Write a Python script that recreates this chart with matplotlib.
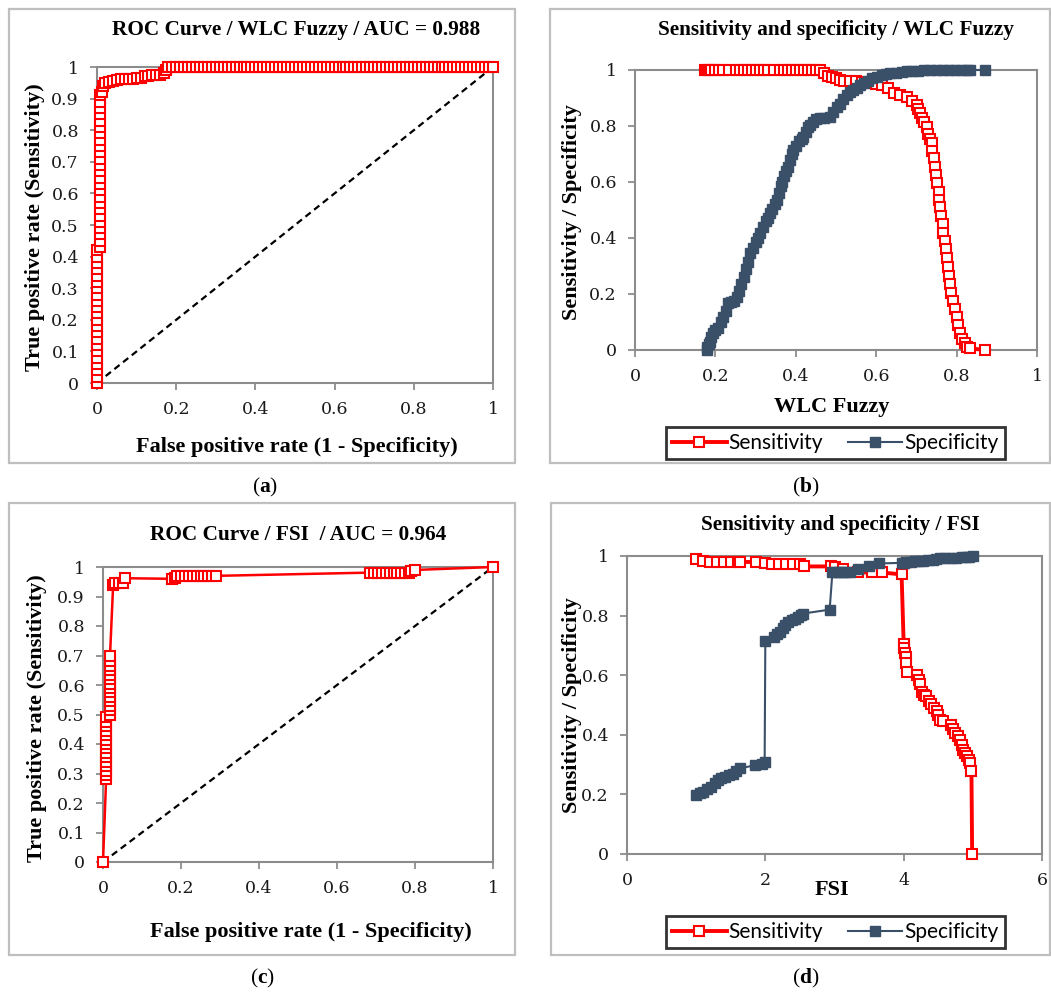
import matplotlib
matplotlib.use("Agg")
import matplotlib.pyplot as plt
from matplotlib.patches import Rectangle

# ---------------- data ----------------
# (a) ROC curve, WLC Fuzzy
fuzzy_fpr = [0, 0, 0, 0, 0, 0, 0, 0, 0, 0, 0, 0, 0, 0, 0, 0, 0, 0, 0, 0, 0, 0,
             0.008, 0.008, 0.008, 0.008, 0.008, 0.008, 0.008, 0.008, 0.008, 0.008,
             0.008, 0.008, 0.008, 0.008, 0.008, 0.008, 0.008, 0.008, 0.008, 0.008,
             0.008, 0.008, 0.008, 0.008, 0.008,
             0.012, 0.015, 0.02, 0.03, 0.04, 0.05, 0.06, 0.07, 0.08, 0.09, 0.10,
             0.11, 0.12, 0.13, 0.14, 0.15, 0.16, 0.17, 0.175, 0.18,
             0.19, 0.20, 0.21, 0.22, 0.23, 0.24, 0.25, 0.26, 0.27, 0.28, 0.29,
             0.30, 0.31, 0.32, 0.33, 0.34, 0.35, 0.36, 0.37, 0.38, 0.39, 0.40,
             0.41, 0.42, 0.43, 0.44, 0.45, 0.46, 0.47, 0.48, 0.49, 0.50, 0.51,
             0.52, 0.53, 0.54, 0.55, 0.56, 0.57, 0.58, 0.59, 0.60, 0.61, 0.62,
             0.63, 0.64, 0.65, 0.66, 0.67, 0.68, 0.69, 0.70, 0.71, 0.72, 0.73,
             0.74, 0.75, 0.76, 0.77, 0.78, 0.79, 0.80, 0.81, 0.82, 0.83, 0.84,
             0.85, 0.86, 0.87, 0.88, 0.89, 0.90, 0.91, 0.92, 0.93, 0.94, 0.95,
             0.96, 0.97, 0.98, 0.99, 1.00]
fuzzy_tpr = [0.00, 0.02, 0.04, 0.06, 0.08, 0.10, 0.12, 0.14, 0.16, 0.18, 0.20,
             0.22, 0.24, 0.26, 0.28, 0.30, 0.32, 0.34, 0.36, 0.38, 0.40, 0.42,
             0.43, 0.45, 0.47, 0.49, 0.51, 0.53, 0.55, 0.57, 0.59, 0.61, 0.63,
             0.65, 0.67, 0.69, 0.71, 0.73, 0.75, 0.77, 0.79, 0.81, 0.83, 0.85,
             0.87, 0.89, 0.91,
             0.92, 0.94, 0.95, 0.952, 0.955, 0.96, 0.962, 0.962, 0.963, 0.963,
             0.964, 0.966, 0.97, 0.972, 0.974, 0.975, 0.976, 0.98, 0.99, 1.0,
             1, 1, 1, 1, 1, 1, 1, 1, 1, 1, 1, 1, 1, 1, 1, 1, 1, 1, 1, 1, 1, 1,
             1, 1, 1, 1, 1, 1, 1, 1, 1, 1, 1, 1, 1, 1, 1, 1, 1, 1, 1, 1, 1, 1,
             1, 1, 1, 1, 1, 1, 1, 1, 1, 1, 1, 1, 1, 1, 1, 1, 1, 1, 1, 1, 1, 1,
             1, 1, 1, 1, 1, 1, 1, 1, 1, 1, 1, 1, 1, 1, 1, 1]

# (b) sensitivity / specificity against WLC Fuzzy
fuzzy_sens_x = [0.175, 0.18, 0.185, 0.19, 0.20, 0.21, 0.22, 0.235, 0.25, 0.26,
                0.27, 0.28, 0.29, 0.30, 0.31, 0.32, 0.33, 0.345, 0.36, 0.37,
                0.38, 0.39, 0.40, 0.41, 0.42, 0.43, 0.44, 0.45, 0.46,
                0.47, 0.48, 0.49, 0.50, 0.51, 0.52, 0.535, 0.55, 0.565, 0.58,
                0.60, 0.615, 0.63, 0.645, 0.66, 0.677, 0.69, 0.701, 0.705, 0.709,
                0.715, 0.72, 0.726, 0.73, 0.734, 0.738, 0.74, 0.743, 0.746, 0.749,
                0.752, 0.755, 0.757, 0.759, 0.762, 0.765, 0.767, 0.77, 0.773,
                0.776, 0.779, 0.782, 0.784, 0.787, 0.791, 0.795, 0.80, 0.804,
                0.808, 0.814, 0.82, 0.826, 0.833, 0.87]
fuzzy_sens_y = [1, 1, 1, 1, 1, 1, 1, 1, 1, 1, 1, 1, 1, 1, 1, 1, 1, 1, 1, 1, 1,
                1, 1, 1, 1, 1, 1, 1, 1,
                0.99, 0.98, 0.975, 0.97, 0.965, 0.962, 0.96, 0.96, 0.958, 0.955,
                0.95, 0.946, 0.935, 0.917, 0.91, 0.905, 0.89, 0.876, 0.86, 0.846,
                0.83, 0.815, 0.797, 0.77, 0.755, 0.738, 0.71, 0.685, 0.655, 0.625,
                0.595, 0.565, 0.536, 0.51, 0.48, 0.45, 0.417, 0.39, 0.36, 0.33,
                0.298, 0.265, 0.235, 0.202, 0.175, 0.148, 0.119, 0.09, 0.06, 0.04,
                0.024, 0.012, 0.006, 0.0]
fuzzy_spec_x = [0.178, 0.18, 0.183, 0.186, 0.19, 0.195, 0.20, 0.207, 0.213, 0.22,
                0.226, 0.232, 0.24, 0.247, 0.253, 0.258, 0.264, 0.27, 0.275, 0.28,
                0.286, 0.293, 0.30, 0.305, 0.311, 0.318, 0.325, 0.33, 0.336, 0.342,
                0.348, 0.353, 0.358, 0.362, 0.365, 0.37, 0.376, 0.381, 0.386, 0.39,
                0.394, 0.40, 0.408, 0.415, 0.419, 0.425, 0.43, 0.435, 0.442, 0.45,
                0.46, 0.47, 0.485, 0.492, 0.502, 0.51, 0.518, 0.527, 0.535, 0.543,
                0.552, 0.56, 0.569, 0.58, 0.59, 0.602, 0.615, 0.625, 0.635, 0.65,
                0.665, 0.676, 0.69, 0.705, 0.72, 0.735, 0.75, 0.765, 0.78, 0.795,
                0.81, 0.825, 0.833, 0.87]
fuzzy_spec_y = [0.0, 0.01, 0.02, 0.03, 0.045, 0.06, 0.07, 0.08, 0.10, 0.119,
                0.14, 0.167, 0.17, 0.175, 0.19, 0.21, 0.235, 0.262, 0.29, 0.315,
                0.345, 0.365, 0.385, 0.40, 0.417, 0.44, 0.46, 0.47, 0.488, 0.505,
                0.52, 0.536, 0.56, 0.585, 0.601, 0.62, 0.64, 0.655, 0.68, 0.70,
                0.714, 0.73, 0.745, 0.755, 0.762, 0.78, 0.795, 0.804, 0.815, 0.825,
                0.828, 0.83, 0.833, 0.85, 0.869, 0.88, 0.895, 0.911, 0.92, 0.928,
                0.935, 0.945, 0.952, 0.962, 0.97, 0.976, 0.982, 0.985, 0.988, 0.99,
                0.993, 0.996, 0.997, 0.998, 0.999, 1.0, 1.0, 1.0, 1.0, 1.0,
                1.0, 1.0, 1.0, 1.0]

# (c) ROC curve, FSI
fsi_fpr = [0.0,
           0.008, 0.008, 0.008, 0.008, 0.008, 0.008, 0.008, 0.008, 0.008, 0.008,
           0.008, 0.008, 0.008, 0.008, 0.008,
           0.018, 0.018, 0.018, 0.018, 0.018, 0.018, 0.018, 0.018, 0.018, 0.018,
           0.018, 0.018, 0.018, 0.018,
           0.026, 0.03, 0.04, 0.05, 0.056, 0.176, 0.185, 0.19, 0.20, 0.21, 0.22,
           0.23, 0.24, 0.25, 0.26, 0.27, 0.28, 0.29, 0.685, 0.695, 0.705, 0.715,
           0.725, 0.735, 0.745, 0.755, 0.765, 0.775, 0.785, 0.79, 0.80, 1.0]
fsi_tpr = [0.0,
           0.28, 0.295, 0.31, 0.325, 0.34, 0.355, 0.37, 0.385, 0.40, 0.415,
           0.43, 0.445, 0.46, 0.475, 0.49,
           0.50, 0.515, 0.53, 0.545, 0.56, 0.575, 0.59, 0.605, 0.62, 0.635,
           0.65, 0.665, 0.68, 0.70,
           0.939, 0.945, 0.945, 0.945, 0.962, 0.96, 0.962, 0.968, 0.97, 0.97,
           0.97, 0.97, 0.97, 0.97, 0.97, 0.97, 0.97, 0.97, 0.981, 0.981, 0.981,
           0.981, 0.981, 0.981, 0.981, 0.981, 0.981, 0.981, 0.981, 0.985, 0.99,
           1.0]

# (d) sensitivity / specificity against FSI
fsi_sens_x = [1.0, 1.1, 1.2, 1.3, 1.4, 1.5, 1.6, 1.63, 1.87, 1.99, 2.1, 2.2, 2.3,
              2.4, 2.5, 2.56, 2.95, 3.0, 3.12, 3.34, 3.54, 3.68, 3.97, 4.0, 4.01,
              4.02, 4.03, 4.04, 4.05, 4.19, 4.22, 4.24, 4.26, 4.3, 4.33, 4.37,
              4.4, 4.44, 4.48, 4.5, 4.52, 4.57, 4.69, 4.72, 4.74, 4.78, 4.81,
              4.84, 4.86, 4.89, 4.91, 4.94, 4.96, 4.98, 4.99]
fsi_sens_y = [0.99, 0.982, 0.98, 0.98, 0.98, 0.98, 0.98, 0.98, 0.98, 0.975,
              0.973, 0.973, 0.973, 0.973, 0.973, 0.965, 0.965, 0.963, 0.957,
              0.945, 0.945, 0.945, 0.938, 0.706, 0.69, 0.675, 0.661, 0.64, 0.61,
              0.6, 0.585, 0.57, 0.545, 0.535, 0.53, 0.515, 0.505, 0.49, 0.48,
              0.465, 0.45, 0.445, 0.434, 0.42, 0.406, 0.395, 0.384, 0.365, 0.35,
              0.34, 0.328, 0.315, 0.306, 0.278, 0.0]
fsi_spec_x = [1.0, 1.05, 1.1, 1.16, 1.22, 1.27, 1.31, 1.36, 1.41, 1.47, 1.53,
              1.58, 1.63, 1.85, 1.95, 1.99, 2.0, 2.13, 2.17, 2.21, 2.25, 2.28,
              2.33, 2.38, 2.43, 2.47, 2.51, 2.55, 2.93, 2.97, 3.02, 3.07, 3.12,
              3.17, 3.22, 3.34, 3.5, 3.65, 3.97, 4.0, 4.04, 4.1, 4.16, 4.22, 4.28,
              4.35, 4.43, 4.47, 4.52, 4.6, 4.68, 4.76, 4.84, 4.9, 4.95, 5.0]
fsi_spec_y = [0.198, 0.205, 0.209, 0.218, 0.226, 0.238, 0.248, 0.255, 0.259,
              0.265, 0.27, 0.28, 0.287, 0.298, 0.303, 0.309, 0.715, 0.728, 0.737,
              0.745, 0.757, 0.768, 0.777, 0.785, 0.79, 0.796, 0.803, 0.807, 0.82,
              0.946, 0.946, 0.946, 0.946, 0.946, 0.946, 0.955, 0.965, 0.975,
              0.977, 0.978, 0.98, 0.981, 0.982, 0.983, 0.984, 0.985, 0.985, 0.99,
              0.993, 0.993, 0.994, 0.994, 0.995, 0.995, 0.995, 1.0]

# ---------------- styling ----------------
TICKFONT = "DejaVu Serif"
SERIF = "Liberation Serif"
SANS = "Lato"
RED = "#FF0000"
NAVY = "#3A5068"
GRID = "#8C8C8C"

plt.rcParams["font.family"] = TICKFONT
plt.rcParams["mathtext.fontset"] = "custom"
plt.rcParams["mathtext.rm"] = SERIF
plt.rcParams["mathtext.bf"] = SERIF + ":bold"

W, H = 1051, 992
fig = plt.figure(figsize=(W / 100, H / 100), dpi=100)


def box(l, t, r, b):
    return [l / W, 1 - b / H, (r - l) / W, (b - t) / H]


def ftext(x, y, s, **kw):
    fig.text(x / W, 1 - y / H, s, ha="center", va="center", family=SERIF, **kw)


def frame(l, t, r, b):
    fig.patches.append(Rectangle((l / W, 1 - b / H), (r - l) / W, (b - t) / H,
                                 transform=fig.transFigure, fill=False,
                                 edgecolor="#BFBFBF", lw=1.6))


def style(ax, xt, xl, yt, yl):
    for s in ax.spines.values():
        s.set_color(GRID)
        s.set_linewidth(1.5)
    ax.set_xticks(xt)
    ax.set_xticklabels(xl)
    ax.set_yticks(yt)
    ax.set_yticklabels(yl)
    ax.tick_params(axis="both", direction="out", length=5, width=1.3,
                   color=GRID, labelsize=12.5, labelcolor="#1a1a1a")
    ax.tick_params(axis="x", pad=8)
    ax.tick_params(axis="y", pad=8)


frame(9, 9, 515, 463)
frame(550, 9, 1050, 463)
frame(9, 503, 515, 955)
frame(551, 503, 1050, 955)

ticks01 = [0, 0.2, 0.4, 0.6, 0.8, 1]
labels01 = ["0", "0.2", "0.4", "0.6", "0.8", "1"]
ticks_roc_y = [0, 0.1, 0.2, 0.3, 0.4, 0.5, 0.6, 0.7, 0.8, 0.9, 1]
labels_roc_y = ["0", "0.1", "0.2", "0.3", "0.4", "0.5", "0.6", "0.7", "0.8", "0.9", "1"]

roc_marker = dict(marker="s", markersize=6.5, markerfacecolor="white",
                  markeredgecolor=RED, markeredgewidth=1.5)
TITLE = dict(fontsize=15.3, fontweight="bold")
LABEL = dict(fontsize=16, fontweight="bold")

# (a)
ax = fig.add_axes(box(97, 67, 493, 383))
ax.plot([0, 1], [0, 1], color="black", lw=1.6, ls=(0, (3, 2)), zorder=2)
ax.plot(fuzzy_fpr, fuzzy_tpr, color=RED, lw=1.5, clip_on=False, zorder=3, **roc_marker)
ax.set_xlim(0, 1)
ax.set_ylim(0, 1)
style(ax, ticks01, labels01, ticks_roc_y, labels_roc_y)
ftext(296, 30, "ROC Curve / WLC Fuzzy / AUC = 0.988", **TITLE)
ftext(297, 447, "False positive rate (1 - Specificity)", **LABEL)
ftext(35, 227, "True positive rate (Sensitivity)", rotation=90, **LABEL)
ftext(265, 487, r"($\mathbf{a}$)", fontsize=15.5)

# (b)
ax = fig.add_axes(box(635, 70, 1037, 350))
ax.plot(fuzzy_sens_x, fuzzy_sens_y, color=RED, lw=2.8, clip_on=False, zorder=3,
        label="Sensitivity", **roc_marker)
ax.plot(fuzzy_spec_x, fuzzy_spec_y, color=NAVY, lw=1.5, marker="s", markersize=6.5,
        markerfacecolor=NAVY, markeredgecolor=NAVY, clip_on=False, zorder=4,
        label="Specificity")
ax.set_xlim(0, 1)
ax.set_ylim(0, 1)
style(ax, ticks01, labels01, [0, 0.2, 0.4, 0.6, 0.8, 1], labels01)
ftext(836, 30, "Sensitivity and specificity / WLC Fuzzy", **TITLE)
ftext(832, 407, "WLC Fuzzy", **LABEL)
ftext(572, 212, "Sensitivity / Specificity", rotation=90, **LABEL)
ftext(806, 487, r"($\mathbf{b}$)", fontsize=15.5)
leg = ax.legend(loc="center", bbox_to_anchor=(835.5 / W, 1 - 443 / H),
                bbox_transform=fig.transFigure, ncol=2, frameon=True, fancybox=False,
                edgecolor="black", prop={"family": SANS, "size": 15},
                handlelength=2.6, handletextpad=0.1, columnspacing=1.2,
                borderpad=0.3, borderaxespad=0)
leg.get_frame().set_linewidth(2)

# (c)
ax = fig.add_axes(box(103, 567, 493, 862))
ax.plot([0, 1], [0, 1], color="black", lw=1.6, ls=(0, (3, 2)), zorder=2)
ax.plot(fsi_fpr, fsi_tpr, color=RED, lw=1.8, clip_on=False, zorder=3, **roc_marker)
ax.set_xlim(0, 1)
ax.set_ylim(0, 1)
style(ax, ticks01, labels01, ticks_roc_y, labels_roc_y)
ftext(298, 535, "ROC Curve / FSI  / AUC = 0.964", **TITLE)
ftext(311, 932, "False positive rate (1 - Specificity)", **LABEL)
ftext(37, 718, "True positive rate (Sensitivity)", rotation=90, **LABEL)
ftext(262, 978, r"($\mathbf{c}$)", fontsize=15.5)

# (d)
ax = fig.add_axes(box(627, 556, 1042, 854))
ax.plot(fsi_sens_x, fsi_sens_y, color=RED, lw=2.8, clip_on=False, zorder=3,
        label="Sensitivity", **roc_marker)
ax.plot(fsi_spec_x, fsi_spec_y, color=NAVY, lw=1.5, marker="s", markersize=6.5,
        markerfacecolor=NAVY, markeredgecolor=NAVY, clip_on=False, zorder=4,
        label="Specificity")
ax.set_xlim(0, 6)
ax.set_ylim(0, 1)
style(ax, [0, 2, 4, 6], ["0", "2", "4", "6"], [0, 0.2, 0.4, 0.6, 0.8, 1], labels01)
ftext(840, 525, "Sensitivity and specificity / FSI", **TITLE)
ftext(832, 890, "FSI", **LABEL)
ftext(572, 705, "Sensitivity / Specificity", rotation=90, **LABEL)
ftext(806, 978, r"($\mathbf{d}$)", fontsize=15.5)
leg = ax.legend(loc="center", bbox_to_anchor=(835.5 / W, 1 - 932 / H),
                bbox_transform=fig.transFigure, ncol=2, frameon=True, fancybox=False,
                edgecolor="black", prop={"family": SANS, "size": 15},
                handlelength=2.6, handletextpad=0.1, columnspacing=1.2,
                borderpad=0.3, borderaxespad=0)
leg.get_frame().set_linewidth(2)

fig.savefig("out.png", dpi=100)
